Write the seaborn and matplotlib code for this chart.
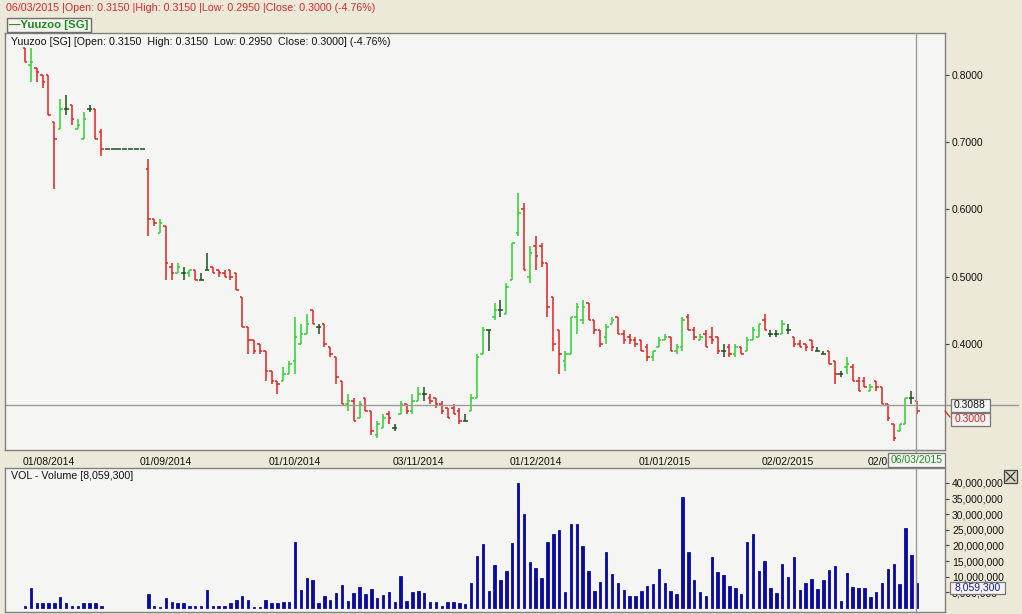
import numpy as np
import pandas as pd
import matplotlib.pyplot as plt
import seaborn as sns
from matplotlib.patches import Rectangle
from matplotlib.lines import Line2D

# Yuuzoo [SG] daily bars, late Jul 2014 .. 06/03/2015 (sessions 14-20: trading halt)
opens = [0.840, 0.815, 0.810, 0.800, 0.800, 0.730, 0.720, 0.750, 0.755, 0.720,
         0.705, 0.750, 0.750, 0.715, 0.690, 0.690, 0.690, 0.690, 0.690, 0.690,
         0.690, 0.660, 0.585, 0.565, 0.575, 0.515, 0.505, 0.505, 0.505, 0.510,
         0.495, 0.510, 0.515, 0.510, 0.505, 0.510, 0.505, 0.470, 0.425, 0.405,
         0.400, 0.390, 0.360, 0.345, 0.345, 0.355, 0.375, 0.400, 0.415, 0.450,
         0.425, 0.430, 0.395, 0.380, 0.345, 0.310, 0.315, 0.290, 0.320, 0.300,
         0.265, 0.275, 0.295, 0.275, 0.295, 0.310, 0.300, 0.315, 0.325, 0.320,
         0.320, 0.310, 0.305, 0.305, 0.300, 0.285, 0.300, 0.320, 0.385, 0.420,
         0.440, 0.450, 0.445, 0.495, 0.565, 0.600, 0.500, 0.545, 0.545, 0.520,
         0.470, 0.420, 0.375, 0.385, 0.440, 0.435, 0.460, 0.435, 0.420, 0.410,
         0.430, 0.440, 0.415, 0.410, 0.405, 0.405, 0.395, 0.380, 0.395, 0.405,
         0.410, 0.390, 0.395, 0.440, 0.420, 0.405, 0.415, 0.410, 0.410, 0.390,
         0.395, 0.385, 0.395, 0.390, 0.405, 0.410, 0.435, 0.415, 0.415, 0.415,
         0.420, 0.410, 0.400, 0.400, 0.405, 0.390, 0.385, 0.390, 0.375, 0.355,
         0.365, 0.365, 0.345, 0.345, 0.330, 0.345, 0.335, 0.310, 0.280, 0.270,
         0.280, 0.320, 0.315]
highs = [0.840, 0.840, 0.810, 0.800, 0.800, 0.730, 0.765, 0.770, 0.755, 0.735,
         0.745, 0.755, 0.750, 0.720, 0.690, 0.690, 0.690, 0.690, 0.690, 0.690,
         0.690, 0.675, 0.585, 0.585, 0.575, 0.520, 0.520, 0.515, 0.510, 0.510,
         0.505, 0.535, 0.515, 0.510, 0.510, 0.510, 0.505, 0.470, 0.425, 0.405,
         0.400, 0.390, 0.360, 0.345, 0.365, 0.375, 0.440, 0.430, 0.445, 0.450,
         0.430, 0.430, 0.395, 0.380, 0.345, 0.325, 0.320, 0.315, 0.320, 0.300,
         0.285, 0.295, 0.300, 0.280, 0.315, 0.310, 0.325, 0.335, 0.335, 0.325,
         0.320, 0.315, 0.305, 0.310, 0.305, 0.295, 0.325, 0.385, 0.425, 0.420,
         0.460, 0.465, 0.490, 0.550, 0.625, 0.610, 0.545, 0.560, 0.550, 0.520,
         0.470, 0.420, 0.390, 0.440, 0.460, 0.465, 0.460, 0.435, 0.420, 0.430,
         0.440, 0.440, 0.420, 0.415, 0.410, 0.405, 0.400, 0.390, 0.410, 0.415,
         0.410, 0.400, 0.440, 0.445, 0.425, 0.415, 0.420, 0.425, 0.410, 0.400,
         0.400, 0.400, 0.395, 0.410, 0.425, 0.430, 0.445, 0.420, 0.420, 0.435,
         0.430, 0.410, 0.405, 0.400, 0.405, 0.395, 0.390, 0.390, 0.375, 0.360,
         0.380, 0.370, 0.350, 0.350, 0.340, 0.345, 0.335, 0.310, 0.280, 0.280,
         0.320, 0.330, 0.315]
lows = [0.820, 0.790, 0.790, 0.780, 0.740, 0.630, 0.720, 0.740, 0.725, 0.720,
        0.705, 0.745, 0.705, 0.680, 0.690, 0.690, 0.690, 0.690, 0.690, 0.690,
        0.690, 0.560, 0.575, 0.565, 0.495, 0.495, 0.505, 0.495, 0.500, 0.495,
        0.495, 0.510, 0.505, 0.500, 0.500, 0.495, 0.480, 0.425, 0.385, 0.385,
        0.385, 0.345, 0.340, 0.325, 0.345, 0.355, 0.355, 0.400, 0.415, 0.430,
        0.415, 0.395, 0.380, 0.340, 0.310, 0.300, 0.285, 0.290, 0.300, 0.265,
        0.260, 0.275, 0.280, 0.270, 0.295, 0.295, 0.295, 0.315, 0.315, 0.310,
        0.305, 0.295, 0.290, 0.295, 0.280, 0.285, 0.300, 0.320, 0.385, 0.390,
        0.435, 0.440, 0.445, 0.495, 0.560, 0.510, 0.490, 0.510, 0.515, 0.440,
        0.390, 0.355, 0.360, 0.385, 0.415, 0.430, 0.435, 0.415, 0.395, 0.400,
        0.430, 0.415, 0.400, 0.400, 0.395, 0.390, 0.375, 0.375, 0.395, 0.405,
        0.390, 0.385, 0.390, 0.420, 0.405, 0.405, 0.395, 0.400, 0.385, 0.380,
        0.380, 0.380, 0.385, 0.390, 0.405, 0.410, 0.420, 0.410, 0.410, 0.415,
        0.415, 0.395, 0.395, 0.390, 0.390, 0.390, 0.385, 0.370, 0.340, 0.350,
        0.355, 0.345, 0.330, 0.335, 0.330, 0.330, 0.310, 0.285, 0.255, 0.270,
        0.280, 0.310, 0.295]
closes = [0.820, 0.820, 0.805, 0.790, 0.740, 0.705, 0.750, 0.750, 0.735, 0.725,
          0.735, 0.750, 0.705, 0.690, 0.690, 0.690, 0.690, 0.690, 0.690, 0.690,
          0.690, 0.585, 0.580, 0.580, 0.520, 0.505, 0.515, 0.505, 0.510, 0.495,
          0.495, 0.510, 0.505, 0.505, 0.500, 0.500, 0.480, 0.425, 0.405, 0.390,
          0.390, 0.360, 0.345, 0.340, 0.355, 0.370, 0.410, 0.415, 0.430, 0.430,
          0.425, 0.400, 0.385, 0.350, 0.310, 0.315, 0.285, 0.310, 0.300, 0.270,
          0.280, 0.290, 0.290, 0.275, 0.310, 0.300, 0.315, 0.325, 0.325, 0.315,
          0.310, 0.300, 0.290, 0.295, 0.285, 0.285, 0.320, 0.380, 0.420, 0.420,
          0.450, 0.450, 0.485, 0.550, 0.595, 0.510, 0.535, 0.530, 0.520, 0.455,
          0.400, 0.385, 0.385, 0.440, 0.455, 0.455, 0.435, 0.420, 0.400, 0.425,
          0.435, 0.415, 0.405, 0.405, 0.400, 0.390, 0.380, 0.390, 0.405, 0.410,
          0.390, 0.395, 0.435, 0.420, 0.410, 0.410, 0.395, 0.405, 0.390, 0.390,
          0.385, 0.395, 0.385, 0.405, 0.420, 0.430, 0.420, 0.415, 0.415, 0.430,
          0.420, 0.400, 0.395, 0.395, 0.395, 0.390, 0.385, 0.370, 0.355, 0.355,
          0.370, 0.345, 0.330, 0.335, 0.335, 0.335, 0.310, 0.290, 0.260, 0.280,
          0.320, 0.320, 0.300]
# volume in millions of shares
volume_m = [0.75, 6.3, 1.7, 1.5, 1.5, 1.5, 3.6, 1.7, 0.75, 0.75,
            1.7, 1.7, 1.7, 0.75, 0, 0, 0, 0, 0, 0,
            0, 4.5, 0.75, 0.3, 3.2, 1.8, 1.5, 1.5, 0.75, 0.75,
            0.75, 5.8, 0.75, 0.75, 0.75, 1.5, 2.6, 3.8, 2.6, 0.4,
            0.4, 2.6, 1.5, 1.5, 1.9, 1.9, 21.2, 5.8, 9.7, 9.0,
            1.5, 3.8, 2.6, 4.9, 7.4, 2.2, 4.9, 6.8, 4.5, 6.1,
            3.1, 4.2, 5.1, 2.0, 10.2, 2.2, 5.1, 5.5, 4.9, 1.9,
            1.9, 0.6, 1.9, 1.9, 1.5, 1.3, 8.1, 16.6, 20.5, 5.4,
            13.8, 9.0, 11.8, 20.9, 39.9, 30.1, 14.7, 12.8, 9.7, 21.1,
            23.7, 25.0, 5.1, 26.9, 26.9, 19.8, 11.8, 5.4, 8.3, 17.9,
            10.9, 8.0, 5.8, 3.8, 3.8, 5.4, 7.0, 7.7, 12.5, 8.0,
            5.4, 4.5, 35.5, 17.9, 9.0, 5.1, 3.8, 16.3, 11.5, 10.6,
            7.0, 6.4, 4.5, 21.1, 23.7, 11.8, 15.0, 6.4, 4.8, 14.1,
            9.9, 16.3, 5.8, 8.0, 9.3, 6.1, 9.0, 12.2, 13.4, 2.2,
            11.2, 6.7, 6.4, 6.4, 3.5, 5.1, 8.0, 12.5, 14.1, 7.7,
            25.6, 17.0, 8.0593]

date_ticks = [4, 24, 46, 67, 87, 109, 130, 148]
date_labels = ['01/08/2014', '01/09/2014', '01/10/2014', '03/11/2014',
               '01/12/2014', '01/01/2015', '02/02/2015', '02/03/2015']
price_ticks = [0.4, 0.5, 0.6, 0.7, 0.8]
volume_ticks = [5e6, 10e6, 15e6, 20e6, 25e6, 30e6, 35e6, 40e6]
cursor_price = 0.3088

df = pd.DataFrame({'open': opens, 'high': highs, 'low': lows,
                   'close': closes, 'volume': np.array(volume_m) * 1e6})
df['idx'] = np.arange(len(df))

sns.set_theme(style='white')
plt.rcParams['font.family'] = ['Liberation Sans', 'DejaVu Sans']

W, H = 1022, 614
def fx(px):
    return px / W
def fy(py):
    return 1 - py / H

BG = '#ece9d8'
PANEL = '#f5f5f4'
EDGE = '#808080'
UP, DOWN, FLAT = '#2fcf2f', '#e0221e', '#1d4f1d'
VOLC = '#0a0aa0'

fig = plt.figure(figsize=(W / 100, H / 100), dpi=100, facecolor=BG)
ax = fig.add_axes([fx(5), fy(449.5), fx(940), 416.5 / H], facecolor=PANEL)
axv = fig.add_axes([fx(5), fy(611.5), fx(940), 143.2 / H], facecolor=PANEL)

# OHLC bars
tick = 0.42
for mask, col in [(df.close > df.open, UP), (df.close < df.open, DOWN),
                  (df.close == df.open, FLAT)]:
    d = df[mask]
    ax.vlines(d.idx, d.low, d.high, color=col, lw=1.1)
    ax.hlines(d.open, d.idx - tick, d.idx, color=col, lw=1.1)
    ax.hlines(d.close, d.idx, d.idx + tick, color=col, lw=1.1)

ax.set_xlim(-3.41, 156.73)
ax.set_ylim(0.2427, 0.8625)

# volume
sns.barplot(data=df, x='idx', y='volume', native_scale=True, width=0.42,
            color=VOLC, saturation=1, errorbar=None, ax=axv)
for p in axv.patches:
    p.set_edgecolor(VOLC)
    p.set_linewidth(0.6 if p.get_height() > 0 else 0)
axv.set_xlim(-3.41, 156.73)
axv.set_ylim(-1.12e6, 44.7e6)
axv.set_xlabel('')
axv.set_ylabel('')

for a in (ax, axv):
    for s in a.spines.values():
        s.set_color(EDGE)
        s.set_linewidth(1)
    a.yaxis.tick_right()
    a.tick_params(axis='y', direction='out', length=3, width=0.8, color='#444444',
                  labelsize=7.5, pad=2, labelcolor='#111111')

ax.set_yticks(price_ticks)
ax.set_yticklabels([f'{v:.4f}' for v in price_ticks])
ax.set_xticks(date_ticks)
ax.set_xticklabels(date_labels)
ax.tick_params(axis='x', direction='out', length=3, width=0.8, color='#444444',
               labelsize=7.5, pad=2.5, labelcolor='#111111')

axv.set_yticks(volume_ticks)
axv.set_yticklabels([f'{v:,.0f}' for v in volume_ticks])
axv.set_xticks([])

# crosshair
ax.axhline(cursor_price, xmin=0, xmax=(1018 - 5) / 940, color='#9a9a9a', lw=1, clip_on=False)
fig.add_artist(Line2D([fx(916), fx(916)], [fy(33), fy(612)], color='#9a9a9a', lw=1))

# header texts
fig.text(fx(6), fy(8), '06/03/2015 |Open: 0.3150 |High: 0.3150 |Low: 0.2950 |Close: 0.3000 (-4.76%)',
         color='#d42a2a', fontsize=7.7, va='center')
fig.add_artist(Rectangle((fx(6.5), fy(31.5)), fx(84), 13.5 / H, transform=fig.transFigure,
                         facecolor='#f4f3ee', edgecolor='#6f6f6f', lw=1))
fig.text(fx(9), fy(24.5), '\u2014Yuuzoo [SG]', color='#1f8a1f', fontsize=8.2,
         fontweight='bold', va='center')
fig.text(fx(11), fy(42), 'Yuuzoo [SG] [Open: 0.3150  High: 0.3150  Low: 0.2950  Close: 0.3000] (-4.76%)',
         color='#111111', fontsize=7.7, va='center')
fig.text(fx(11), fy(476), 'VOL - Volume [8,059,300]', color='#111111', fontsize=7.7, va='center')

def label_box(x0, y0, x1, y1, text, color):
    fig.add_artist(Rectangle((fx(x0), fy(y1)), fx(x1 - x0), (y1 - y0) / H,
                             transform=fig.transFigure, facecolor='#f4f4f2',
                             edgecolor='#777777', lw=0.9, zorder=5))
    fig.text(fx((x0 + x1) / 2), fy((y0 + y1) / 2), text, color=color, fontsize=7.5,
             ha='center', va='center', zorder=6)

label_box(950.5, 399, 989.5, 412, '0.3088', '#111111')
label_box(950.5, 412.5, 989.5, 425.5, '0.3000', '#d42020')
fig.add_artist(Line2D([fx(945), fx(950)], [fy(411), fy(417)], color='#d42020', lw=0.9))
label_box(888, 453, 945, 467, '06/03/2015', '#218a21')
label_box(950, 581.5, 1005, 594, '8,059,300', '#1c1ca0')

# close button of the volume pane
fig.add_artist(Rectangle((fx(1004), fy(483)), fx(13), 13 / H, transform=fig.transFigure,
                         facecolor='#d8d4c4', edgecolor='#444444', lw=0.9))
fig.add_artist(Line2D([fx(1006), fx(1015)], [fy(472), fy(481)], color='#333333', lw=0.9))
fig.add_artist(Line2D([fx(1006), fx(1015)], [fy(481), fy(472)], color='#333333', lw=0.9))

fig.savefig('out.png', dpi=100, facecolor=fig.get_facecolor())
